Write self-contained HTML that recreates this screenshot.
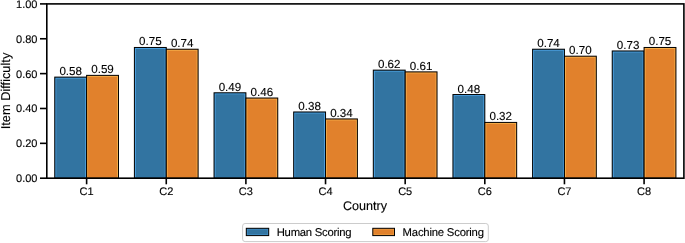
<!DOCTYPE html>
<html><head><meta charset="utf-8"><style>
html,body{margin:0;padding:0;background:#fff;width:685px;height:243px;overflow:hidden}
svg text{font-family:"Liberation Sans", sans-serif;text-rendering:geometricPrecision;stroke:#000;stroke-width:0.12px}
svg{will-change:transform}
</style></head><body>
<svg width="685" height="243" viewBox="0 0 685 243" style="position:absolute;left:0;top:0">
<rect x="0" y="0" width="685" height="243" fill="#fff"/>
<rect x="54.76" y="77.11" width="31.86" height="101.09" fill="#3274a1"/>
<rect x="55.76" y="78.11" width="29.86" height="100.09" fill="none" stroke="#4aa0e0" stroke-width="1"/>
<rect x="54.76" y="77.11" width="31.86" height="101.09" fill="none" stroke="#000" stroke-width="1.0"/>
<text x="70.69" y="75.11" font-size="11.6" text-anchor="middle" fill="#000">0.58</text>
<rect x="86.62" y="75.36" width="31.86" height="102.84" fill="#e1812c"/>
<rect x="87.62" y="76.36" width="29.86" height="101.84" fill="none" stroke="#f5ad48" stroke-width="1"/>
<rect x="86.62" y="75.36" width="31.86" height="102.84" fill="none" stroke="#000" stroke-width="1.0"/>
<text x="102.55" y="73.36" font-size="11.6" text-anchor="middle" fill="#000">0.59</text>
<rect x="134.40" y="47.47" width="31.86" height="130.72" fill="#3274a1"/>
<rect x="135.40" y="48.47" width="29.86" height="129.72" fill="none" stroke="#4aa0e0" stroke-width="1"/>
<rect x="134.40" y="47.47" width="31.86" height="130.72" fill="none" stroke="#000" stroke-width="1.0"/>
<text x="150.33" y="45.47" font-size="11.6" text-anchor="middle" fill="#000">0.75</text>
<rect x="166.26" y="49.22" width="31.86" height="128.98" fill="#e1812c"/>
<rect x="167.26" y="50.22" width="29.86" height="127.98" fill="none" stroke="#f5ad48" stroke-width="1"/>
<rect x="166.26" y="49.22" width="31.86" height="128.98" fill="none" stroke="#000" stroke-width="1.0"/>
<text x="182.18" y="47.22" font-size="11.6" text-anchor="middle" fill="#000">0.74</text>
<rect x="214.04" y="92.79" width="31.86" height="85.41" fill="#3274a1"/>
<rect x="215.04" y="93.79" width="29.86" height="84.41" fill="none" stroke="#4aa0e0" stroke-width="1"/>
<rect x="214.04" y="92.79" width="31.86" height="85.41" fill="none" stroke="#000" stroke-width="1.0"/>
<text x="229.97" y="90.79" font-size="11.6" text-anchor="middle" fill="#000">0.49</text>
<rect x="245.89" y="98.02" width="31.86" height="80.18" fill="#e1812c"/>
<rect x="246.89" y="99.02" width="29.86" height="79.18" fill="none" stroke="#f5ad48" stroke-width="1"/>
<rect x="245.89" y="98.02" width="31.86" height="80.18" fill="none" stroke="#000" stroke-width="1.0"/>
<text x="261.82" y="96.02" font-size="11.6" text-anchor="middle" fill="#000">0.46</text>
<rect x="293.68" y="111.97" width="31.86" height="66.23" fill="#3274a1"/>
<rect x="294.68" y="112.97" width="29.86" height="65.23" fill="none" stroke="#4aa0e0" stroke-width="1"/>
<rect x="293.68" y="111.97" width="31.86" height="66.23" fill="none" stroke="#000" stroke-width="1.0"/>
<text x="309.60" y="109.97" font-size="11.6" text-anchor="middle" fill="#000">0.38</text>
<rect x="325.53" y="118.94" width="31.86" height="59.26" fill="#e1812c"/>
<rect x="326.53" y="119.94" width="29.86" height="58.26" fill="none" stroke="#f5ad48" stroke-width="1"/>
<rect x="325.53" y="118.94" width="31.86" height="59.26" fill="none" stroke="#000" stroke-width="1.0"/>
<text x="341.46" y="116.94" font-size="11.6" text-anchor="middle" fill="#000">0.34</text>
<rect x="373.31" y="70.13" width="31.86" height="108.07" fill="#3274a1"/>
<rect x="374.31" y="71.13" width="29.86" height="107.07" fill="none" stroke="#4aa0e0" stroke-width="1"/>
<rect x="373.31" y="70.13" width="31.86" height="108.07" fill="none" stroke="#000" stroke-width="1.0"/>
<text x="389.24" y="68.13" font-size="11.6" text-anchor="middle" fill="#000">0.62</text>
<rect x="405.17" y="71.88" width="31.86" height="106.32" fill="#e1812c"/>
<rect x="406.17" y="72.88" width="29.86" height="105.32" fill="none" stroke="#f5ad48" stroke-width="1"/>
<rect x="405.17" y="71.88" width="31.86" height="106.32" fill="none" stroke="#000" stroke-width="1.0"/>
<text x="421.10" y="69.88" font-size="11.6" text-anchor="middle" fill="#000">0.61</text>
<rect x="452.95" y="94.54" width="31.86" height="83.66" fill="#3274a1"/>
<rect x="453.95" y="95.54" width="29.86" height="82.66" fill="none" stroke="#4aa0e0" stroke-width="1"/>
<rect x="452.95" y="94.54" width="31.86" height="83.66" fill="none" stroke="#000" stroke-width="1.0"/>
<text x="468.88" y="92.54" font-size="11.6" text-anchor="middle" fill="#000">0.48</text>
<rect x="484.81" y="122.42" width="31.86" height="55.78" fill="#e1812c"/>
<rect x="485.81" y="123.42" width="29.86" height="54.78" fill="none" stroke="#f5ad48" stroke-width="1"/>
<rect x="484.81" y="122.42" width="31.86" height="55.78" fill="none" stroke="#000" stroke-width="1.0"/>
<text x="500.73" y="120.42" font-size="11.6" text-anchor="middle" fill="#000">0.32</text>
<rect x="532.59" y="49.22" width="31.86" height="128.98" fill="#3274a1"/>
<rect x="533.59" y="50.22" width="29.86" height="127.98" fill="none" stroke="#4aa0e0" stroke-width="1"/>
<rect x="532.59" y="49.22" width="31.86" height="128.98" fill="none" stroke="#000" stroke-width="1.0"/>
<text x="548.52" y="47.22" font-size="11.6" text-anchor="middle" fill="#000">0.74</text>
<rect x="564.44" y="56.19" width="31.86" height="122.01" fill="#e1812c"/>
<rect x="565.44" y="57.19" width="29.86" height="121.01" fill="none" stroke="#f5ad48" stroke-width="1"/>
<rect x="564.44" y="56.19" width="31.86" height="122.01" fill="none" stroke="#000" stroke-width="1.0"/>
<text x="580.37" y="54.19" font-size="11.6" text-anchor="middle" fill="#000">0.70</text>
<rect x="612.23" y="50.96" width="31.86" height="127.24" fill="#3274a1"/>
<rect x="613.23" y="51.96" width="29.86" height="126.24" fill="none" stroke="#4aa0e0" stroke-width="1"/>
<rect x="612.23" y="50.96" width="31.86" height="127.24" fill="none" stroke="#000" stroke-width="1.0"/>
<text x="628.15" y="48.96" font-size="11.6" text-anchor="middle" fill="#000">0.73</text>
<rect x="644.08" y="47.47" width="31.86" height="130.72" fill="#e1812c"/>
<rect x="645.08" y="48.47" width="29.86" height="129.72" fill="none" stroke="#f5ad48" stroke-width="1"/>
<rect x="644.08" y="47.47" width="31.86" height="130.72" fill="none" stroke="#000" stroke-width="1.0"/>
<text x="660.01" y="45.47" font-size="11.6" text-anchor="middle" fill="#000">0.75</text>
<rect x="46.80" y="3.90" width="637.10" height="174.30" fill="none" stroke="#000" stroke-width="1.6"/>
<line x1="40.00" y1="178.20" x2="46.80" y2="178.20" stroke="#000" stroke-width="1.6"/>
<text x="37.50" y="182.10" font-size="11.0" text-anchor="end" fill="#000">0.00</text>
<line x1="40.00" y1="143.34" x2="46.80" y2="143.34" stroke="#000" stroke-width="1.6"/>
<text x="37.50" y="147.24" font-size="11.0" text-anchor="end" fill="#000">0.20</text>
<line x1="40.00" y1="108.48" x2="46.80" y2="108.48" stroke="#000" stroke-width="1.6"/>
<text x="37.50" y="112.38" font-size="11.0" text-anchor="end" fill="#000">0.40</text>
<line x1="40.00" y1="73.62" x2="46.80" y2="73.62" stroke="#000" stroke-width="1.6"/>
<text x="37.50" y="77.52" font-size="11.0" text-anchor="end" fill="#000">0.60</text>
<line x1="40.00" y1="38.76" x2="46.80" y2="38.76" stroke="#000" stroke-width="1.6"/>
<text x="37.50" y="42.66" font-size="11.0" text-anchor="end" fill="#000">0.80</text>
<line x1="40.00" y1="3.90" x2="46.80" y2="3.90" stroke="#000" stroke-width="1.6"/>
<text x="37.50" y="7.80" font-size="11.0" text-anchor="end" fill="#000">1.00</text>
<line x1="86.62" y1="178.20" x2="86.62" y2="184.30" stroke="#000" stroke-width="1.6"/>
<text x="86.62" y="194.7" font-size="11.0" text-anchor="middle" fill="#000">C1</text>
<line x1="166.26" y1="178.20" x2="166.26" y2="184.30" stroke="#000" stroke-width="1.6"/>
<text x="166.26" y="194.7" font-size="11.0" text-anchor="middle" fill="#000">C2</text>
<line x1="245.89" y1="178.20" x2="245.89" y2="184.30" stroke="#000" stroke-width="1.6"/>
<text x="245.89" y="194.7" font-size="11.0" text-anchor="middle" fill="#000">C3</text>
<line x1="325.53" y1="178.20" x2="325.53" y2="184.30" stroke="#000" stroke-width="1.6"/>
<text x="325.53" y="194.7" font-size="11.0" text-anchor="middle" fill="#000">C4</text>
<line x1="405.17" y1="178.20" x2="405.17" y2="184.30" stroke="#000" stroke-width="1.6"/>
<text x="405.17" y="194.7" font-size="11.0" text-anchor="middle" fill="#000">C5</text>
<line x1="484.81" y1="178.20" x2="484.81" y2="184.30" stroke="#000" stroke-width="1.6"/>
<text x="484.81" y="194.7" font-size="11.0" text-anchor="middle" fill="#000">C6</text>
<line x1="564.44" y1="178.20" x2="564.44" y2="184.30" stroke="#000" stroke-width="1.6"/>
<text x="564.44" y="194.7" font-size="11.0" text-anchor="middle" fill="#000">C7</text>
<line x1="644.08" y1="178.20" x2="644.08" y2="184.30" stroke="#000" stroke-width="1.6"/>
<text x="644.08" y="194.7" font-size="11.0" text-anchor="middle" fill="#000">C8</text>
<text x="365" y="209.9" font-size="12.6" text-anchor="middle" fill="#000">Country</text>
<text transform="translate(9.6,91.0) rotate(-90)" x="0" y="0" font-size="12.8" text-anchor="middle" fill="#000">Item Difficulty</text>
<rect x="242.6" y="223.5" width="245.7" height="18.1" rx="2.5" ry="2.5" fill="#fff" stroke="#ccc" stroke-width="1"/>
<rect x="246.3" y="228.3" width="22.4" height="7.3" fill="#3274a1"/>
<rect x="247.3" y="229.3" width="20.4" height="5.3" fill="none" stroke="#4aa0e0" stroke-width="0.8" stroke-opacity="0.55"/>
<rect x="246.3" y="228.3" width="22.4" height="7.3" fill="none" stroke="#000" stroke-width="1.0"/>
<text x="276.7" y="235.8" font-size="11.3" textLength="74.8" lengthAdjust="spacing" fill="#000">Human Scoring</text>
<rect x="372.8" y="228.3" width="21.7" height="7.3" fill="#e1812c"/>
<rect x="373.8" y="229.3" width="19.7" height="5.3" fill="none" stroke="#f5ad48" stroke-width="0.8" stroke-opacity="0.55"/>
<rect x="372.8" y="228.3" width="21.7" height="7.3" fill="none" stroke="#000" stroke-width="1.0"/>
<text x="402.6" y="235.8" font-size="11.3" textLength="81.4" lengthAdjust="spacing" fill="#000">Machine Scoring</text>
</svg>
</body></html>
